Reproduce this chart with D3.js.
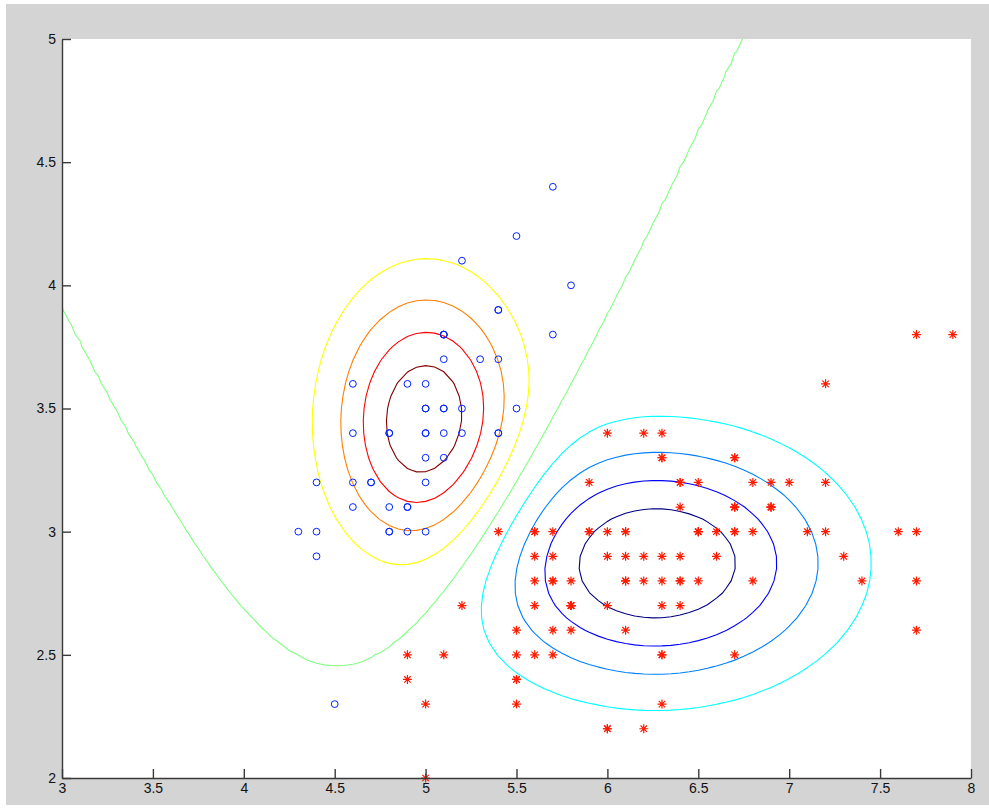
<!DOCTYPE html>
<html>
<head>
<meta charset="utf-8">
<script src="https://cdn.jsdelivr.net/npm/d3@7"></script>
<style>
  body { margin: 0; background: #ffffff; }
</style>
</head>
<body>
<div class="chart"></div>
<script>
// setosa (blue circles)
var setosaLength = [5.1, 4.9, 4.7, 4.6, 5.0, 5.4, 4.6, 5.0, 4.4, 4.9, 5.4, 4.8, 4.8, 4.3, 5.8, 5.7, 5.4, 5.1, 5.7, 5.1,
  5.4, 5.1, 4.6, 5.1, 4.8, 5.0, 5.0, 5.2, 5.2, 4.7, 4.8, 5.4, 5.2, 5.5, 4.9, 5.0, 5.5, 4.9, 4.4, 5.1,
  5.0, 4.5, 4.4, 5.0, 5.1, 4.8, 5.1, 4.6, 5.3, 5.0];
var setosaWidth = [3.5, 3.0, 3.2, 3.1, 3.6, 3.9, 3.4, 3.4, 2.9, 3.1, 3.7, 3.4, 3.0, 3.0, 4.0, 4.4, 3.9, 3.5, 3.8, 3.8,
  3.4, 3.7, 3.6, 3.3, 3.4, 3.0, 3.4, 3.5, 3.4, 3.2, 3.1, 3.4, 4.1, 4.2, 3.1, 3.2, 3.5, 3.6, 3.0, 3.4,
  3.5, 2.3, 3.2, 3.5, 3.8, 3.0, 3.8, 3.2, 3.7, 3.3];

// versicolor + virginica (red stars)
var otherLength = [7.0, 6.4, 6.9, 5.5, 6.5, 5.7, 6.3, 4.9, 6.6, 5.2, 5.0, 5.9, 6.0, 6.1, 5.6, 6.7, 5.6, 5.8, 6.2, 5.6,
  5.9, 6.1, 6.3, 6.1, 6.4, 6.6, 6.8, 6.7, 6.0, 5.7, 5.5, 5.5, 5.8, 6.0, 5.4, 6.0, 6.7, 6.3, 5.6, 5.5,
  5.5, 6.1, 5.8, 5.0, 5.6, 5.7, 5.7, 6.2, 5.1, 5.7,
  6.3, 5.8, 7.1, 6.3, 6.5, 7.6, 4.9, 7.3, 6.7, 7.2, 6.5, 6.4, 6.8, 5.7, 5.8, 6.4, 6.5, 7.7, 7.7, 6.0,
  6.9, 5.6, 7.7, 6.3, 6.7, 7.2, 6.2, 6.1, 6.4, 7.2, 7.4, 7.9, 6.4, 6.3, 6.1, 7.7, 6.3, 6.4, 6.0, 6.9,
  6.7, 6.9, 5.8, 6.8, 6.7, 6.7, 6.3, 6.5, 6.2, 5.9];
var otherWidth = [3.2, 3.2, 3.1, 2.3, 2.8, 2.8, 3.3, 2.4, 2.9, 2.7, 2.0, 3.0, 2.2, 2.9, 2.9, 3.1, 3.0, 2.7, 2.2, 2.5,
  3.2, 2.8, 2.5, 2.8, 2.9, 3.0, 2.8, 3.0, 2.9, 2.6, 2.4, 2.4, 2.7, 2.7, 3.0, 3.4, 3.1, 2.3, 3.0, 2.5,
  2.6, 3.0, 2.6, 2.3, 2.7, 3.0, 2.9, 2.9, 2.5, 2.8,
  3.3, 2.7, 3.0, 2.9, 3.0, 3.0, 2.5, 2.9, 2.5, 3.6, 3.2, 2.7, 3.0, 2.5, 2.8, 3.2, 3.0, 3.8, 2.6, 2.2,
  3.2, 2.8, 2.8, 2.7, 3.3, 3.2, 2.8, 3.0, 2.8, 3.0, 2.8, 3.8, 2.8, 2.8, 2.6, 3.0, 3.4, 3.1, 3.0, 3.1,
  3.1, 3.1, 2.7, 3.2, 3.3, 3.0, 2.5, 3.0, 3.4, 3.0];

var xTicks = [3, 3.5, 4, 4.5, 5, 5.5, 6, 6.5, 7, 7.5, 8];
var yTicks = [2, 2.5, 3, 3.5, 4, 4.5, 5];
var contourLevels = [-0.8, -0.6, -0.4, -0.2, 0, 0.2, 0.4, 0.6, 0.8];

var width = 989, height = 809;
var margin = { "top": 39, "bottom": 31, "right": 18, "left": 62 };

var svg = d3.select("div.chart").append("svg").attr("width", width).attr("height", height);

// figure background
svg.append("rect").attr("x", 6).attr("y", 4).attr("width", width - 6).attr("height", 801).attr("fill", "#d4d4d4");
svg.append("rect")
  .attr("x", margin.left).attr("y", margin.top)
  .attr("width", width - margin.left - margin.right)
  .attr("height", height - margin.top - margin.bottom)
  .attr("fill", "#ffffff");

var xScale = d3.scaleLinear().domain([3, 8]).range([margin.left, width - margin.right]);
var yScale = d3.scaleLinear().domain([2, 5]).range([height - margin.bottom, margin.top]);

svg.append("clipPath").attr("id", "plotclip")
  .append("rect")
  .attr("x", margin.left).attr("y", margin.top)
  .attr("width", width - margin.left - margin.right)
  .attr("height", height - margin.top - margin.bottom);

// gaussian fit per class (diagonal covariance)
function fit (xs, ys) {
  return { mx: d3.mean(xs), my: d3.mean(ys), sx: d3.deviation(xs), sy: d3.deviation(ys) };
}
var g1 = fit(setosaLength, setosaWidth);
var g2 = fit(otherLength, otherWidth);
function bump (g, x, y) {
  var u = (x - g.mx) / g.sx, v = (y - g.my) / g.sy;
  return Math.exp(-0.5 * (u * u + v * v));
}

// grid a bit larger than the axes so the borders get clipped away
var step = 0.05, gx0 = 2.5, gy0 = 1.5;
var nx = 121, ny = 81;
var values = new Array(nx * ny);
for (var j = 0; j < ny; j++) {
  for (var i = 0; i < nx; i++) {
    var x = gx0 + i * step, y = gy0 + j * step;
    values[j * nx + i] = bump(g1, x, y) - bump(g2, x, y);
  }
}
var contours = d3.contours().size([nx, ny]).thresholds(contourLevels)(values);

var gridToPlot = d3.geoTransform({
  point: function(x, y) {
    this.stream.point(xScale(gx0 + (x - 0.5) * step), yScale(gy0 + (y - 0.5) * step));
  }
});

// jet colormap over the level range
function jet (t) {
  var c = function(v) { return Math.round(255 * Math.max(0, Math.min(1, v))); };
  return "rgb(" + c(1.5 - Math.abs(4 * t - 3)) + "," + c(1.5 - Math.abs(4 * t - 2)) + "," + c(1.5 - Math.abs(4 * t - 1)) + ")";
}
var colorScale = d3.scaleLinear().domain(d3.extent(contourLevels)).range([0, 1]);

svg.append("g")
  .attr("clip-path", "url(#plotclip)")
  .selectAll("path")
  .data(contours)
  .enter()
  .append("path")
  .attr("fill", "none")
  .attr("stroke", function(d) { return jet(colorScale(d.value)); })
  .attr("stroke-width", 1.1)
  .attr("d", d3.geoPath(gridToPlot));

// points
svg.append("g")
  .selectAll("circle")
  .data(d3.range(setosaLength.length))
  .enter()
  .append("circle")
  .attr("cx", function(k) { return xScale(setosaLength[k]); })
  .attr("cy", function(k) { return yScale(setosaWidth[k]); })
  .attr("r", 3.4)
  .attr("fill", "none")
  .attr("stroke", "#0022ff")
  .attr("stroke-width", 1);

function star (cx, cy) {
  var a = 4.5, b = 3.2;
  return "M" + (cx - a) + "," + cy + "H" + (cx + a) +
    "M" + cx + "," + (cy - a) + "V" + (cy + a) +
    "M" + (cx - b) + "," + (cy - b) + "L" + (cx + b) + "," + (cy + b) +
    "M" + (cx - b) + "," + (cy + b) + "L" + (cx + b) + "," + (cy - b);
}
svg.append("g")
  .selectAll("path")
  .data(d3.range(otherLength.length))
  .enter()
  .append("path")
  .attr("d", function(k) { return star(xScale(otherLength[k]), yScale(otherWidth[k])); })
  .attr("fill", "none")
  .attr("stroke", "#ff1a00")
  .attr("stroke-width", 1.2);

// axes, ticks pointing inward
var axisx = d3.axisBottom(xScale).tickValues(xTicks).tickSizeInner(-9).tickSizeOuter(0).tickPadding(5)
  .tickFormat(function(d) { return String(d); });
var axisy = d3.axisLeft(yScale).tickValues(yTicks).tickSizeInner(-9).tickSizeOuter(0).tickPadding(6)
  .tickFormat(function(d) { return String(d); });

var gx = svg.append("g")
  .attr("transform", "translate(0," + (height - margin.bottom) + ")")
  .call(axisx);
var gy = svg.append("g")
  .attr("transform", "translate(" + margin.left + ",0)")
  .call(axisy);

[gx, gy].forEach(function(g) {
  g.selectAll("path, line").attr("stroke", "#3a3a3a").attr("stroke-width", 1.4);
  g.selectAll("text")
    .attr("fill", "#111")
    .attr("font-family", "Liberation Sans, Arial, sans-serif")
    .attr("font-size", "14px");
});
</script>
</body>
</html>
